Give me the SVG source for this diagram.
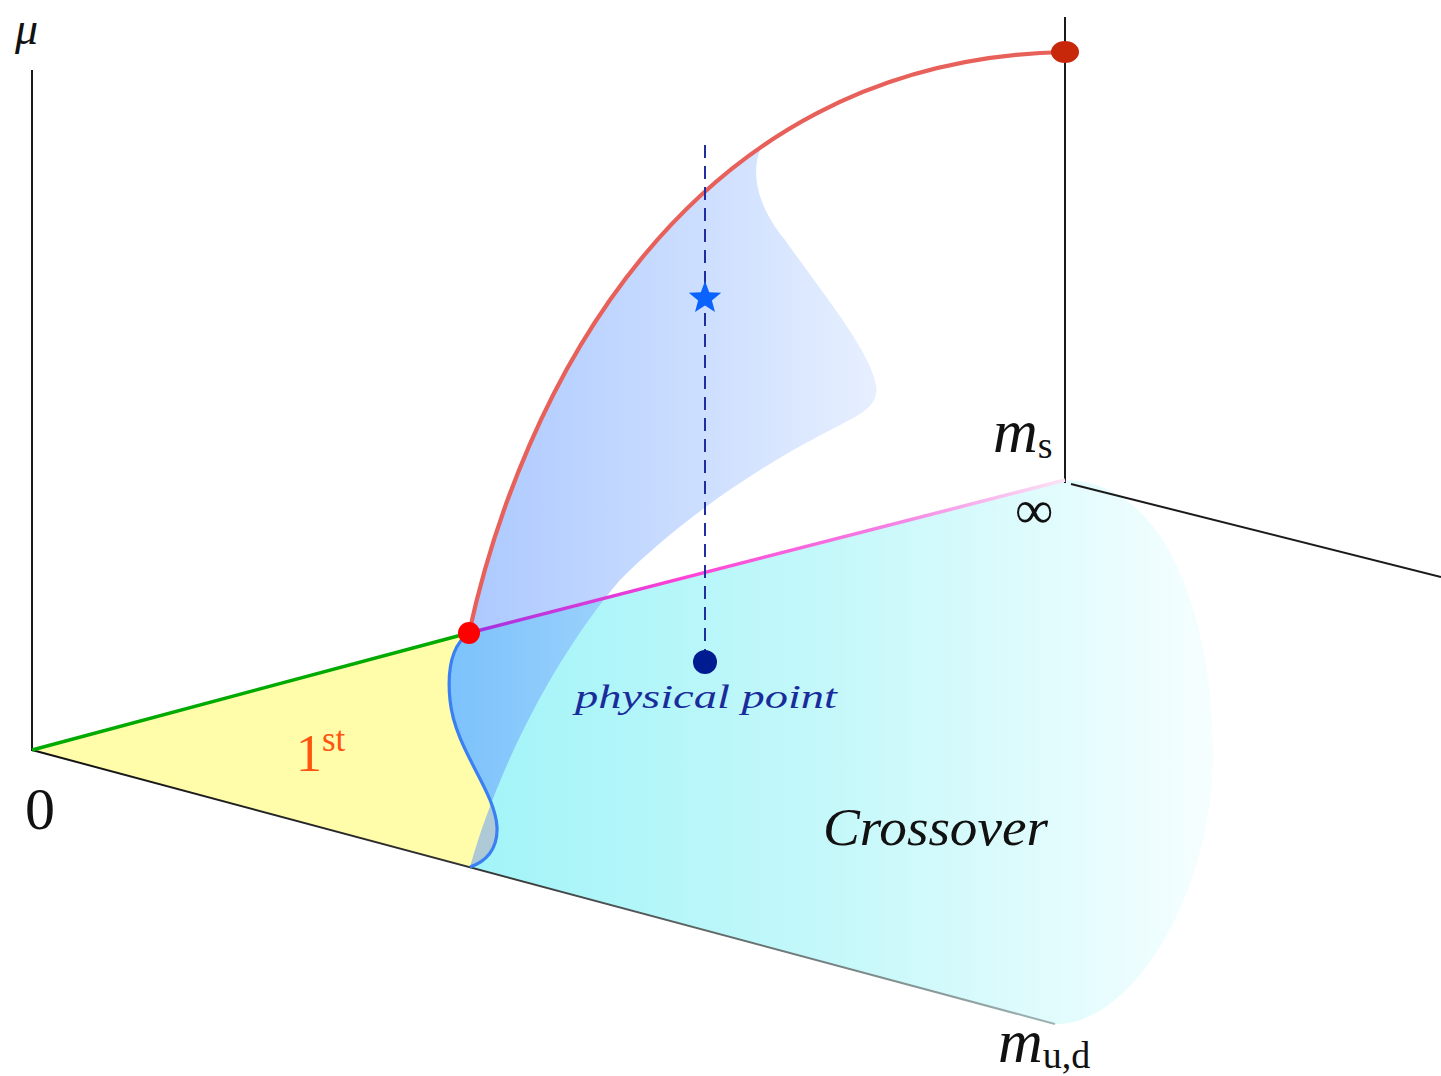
<svg xmlns="http://www.w3.org/2000/svg" width="1441" height="1076" viewBox="0 0 1441 1076">
<defs>
<linearGradient id="gCyan" gradientUnits="userSpaceOnUse" x1="470" y1="0" x2="1215" y2="0">
<stop offset="0" stop-color="#a2f4f8"/><stop offset="0.5" stop-color="#c6f8fa"/><stop offset="1" stop-color="#f6feff"/>
</linearGradient>
<linearGradient id="gSheet" gradientUnits="userSpaceOnUse" x1="450" y1="0" x2="880" y2="0">
<stop offset="0" stop-color="#5a94ff" stop-opacity="0.52"/><stop offset="1" stop-color="#d4e3fe" stop-opacity="0.55"/>
</linearGradient>
<linearGradient id="gPurple" gradientUnits="userSpaceOnUse" x1="469" y1="0" x2="1065" y2="0">
<stop offset="0" stop-color="#a030e0"/><stop offset="0.35" stop-color="#ff40d6"/><stop offset="0.7" stop-color="#f47ee2"/><stop offset="1" stop-color="#fbe4f6"/>
</linearGradient>
<linearGradient id="gAxis" gradientUnits="userSpaceOnUse" x1="32" y1="0" x2="1055" y2="0">
<stop offset="0" stop-color="#111"/><stop offset="0.43" stop-color="#333"/><stop offset="1" stop-color="#a0b4b4"/>
</linearGradient>
<style>
.ax{stroke:#1a1a1a;stroke-width:2;fill:none}
.lbl{font-family:"Liberation Serif","DejaVu Serif",serif;fill:#111}
.it{font-style:italic}
</style>
</defs>
<rect width="1441" height="1076" fill="#fff"/>
<g id="regions">
<path id="yellow" d="M32,750 L469,633 C452,645 447,670 450,700 C455,750 495,790 497,827 C498,850 485,862 470,867 Z" fill="#fffdaa"/>
<path id="cyan" d="M469,633 L1065,480 C1180,482 1215,650 1213,760 C1210,900 1130,1026 1055,1024 L470,867 C485,862 498,850 497,827 C495,790 455,750 450,700 C447,670 452,645 469,633 Z" fill="url(#gCyan)"/>
<path id="sheet" d="M470,867 C485,862 498,850 497,827 C495,790 455,750 450,700 C447,670 452,645 469,633 C503.7,474.6 588.8,266.7 762,146 C752,165 752,200 785,240 C820,290 870,350 876,385 C880,405 860,415 840,425 C760,465 680,520 620,580 C560,650 500,760 470,867 Z" fill="url(#gSheet)"/>
</g>
<g id="connectors">
<line class="ax" x1="32" y1="70" x2="32" y2="751"/>
<line x1="32" y1="750" x2="1055" y2="1024" stroke="url(#gAxis)" stroke-width="2"/>
<line class="ax" x1="1065" y1="17" x2="1065" y2="483"/>
<line class="ax" x1="1071" y1="484" x2="1441" y2="577"/>
<line x1="32" y1="750" x2="469" y2="633" stroke="#00aa00" stroke-width="3.5"/>
<line x1="469" y1="633" x2="1065" y2="480" stroke="url(#gPurple)" stroke-width="3.5"/>
<path d="M469,633 C452,645 447,670 450,700 C455,750 495,790 497,827 C498,850 485,862 470,867" fill="none" stroke="#3a80f2" stroke-width="3.2"/>
<path d="M469,633 C520,400 680,60 1065,52" fill="none" stroke="#e8605a" stroke-width="4.2"/>
<line x1="705" y1="145" x2="705" y2="652" stroke="#1f2fa0" stroke-width="2" stroke-dasharray="13,8"/>
</g>
<g id="points">
<ellipse id="top-point" cx="1065" cy="52" rx="14" ry="11" fill="#c8280a"/>
<circle id="tricritical" cx="469" cy="633" r="11" fill="#ff0000"/>
<circle id="physical" cx="705" cy="662" r="12" fill="#001c90"/>
<polygon id="star" points="705,281 709.2,292.2 721.2,292.8 711.9,300.4 715,312 705,305.4 695,312 698.1,300.4 688.8,292.8 700.8,292.2" fill="#0a62ff"/>
</g>
<g id="labels">
<text class="lbl it" x="15" y="44" font-size="46">μ</text>
<text class="lbl" x="25" y="829" font-size="60">0</text>
<text class="lbl it" x="993" y="452" font-size="62">m<tspan font-style="normal" font-size="38" dy="6">s</tspan></text>
<text class="lbl" x="1015" y="528" font-size="54">∞</text>
<text class="lbl it" x="998" y="1062" font-size="62">m<tspan font-style="normal" font-size="38" dy="6">u,d</tspan></text>
<text class="lbl" x="296" y="771" font-size="52" style="fill:#ff5310">1<tspan font-size="35" dy="-20">st</tspan></text>
<text class="lbl it" x="823" y="845" font-size="52" textLength="225" lengthAdjust="spacingAndGlyphs">Crossover</text>
<text class="lbl it" x="575" y="708" font-size="34" textLength="262" lengthAdjust="spacingAndGlyphs" style="fill:#1a2c9a">physical point</text>
</g>
</svg>
